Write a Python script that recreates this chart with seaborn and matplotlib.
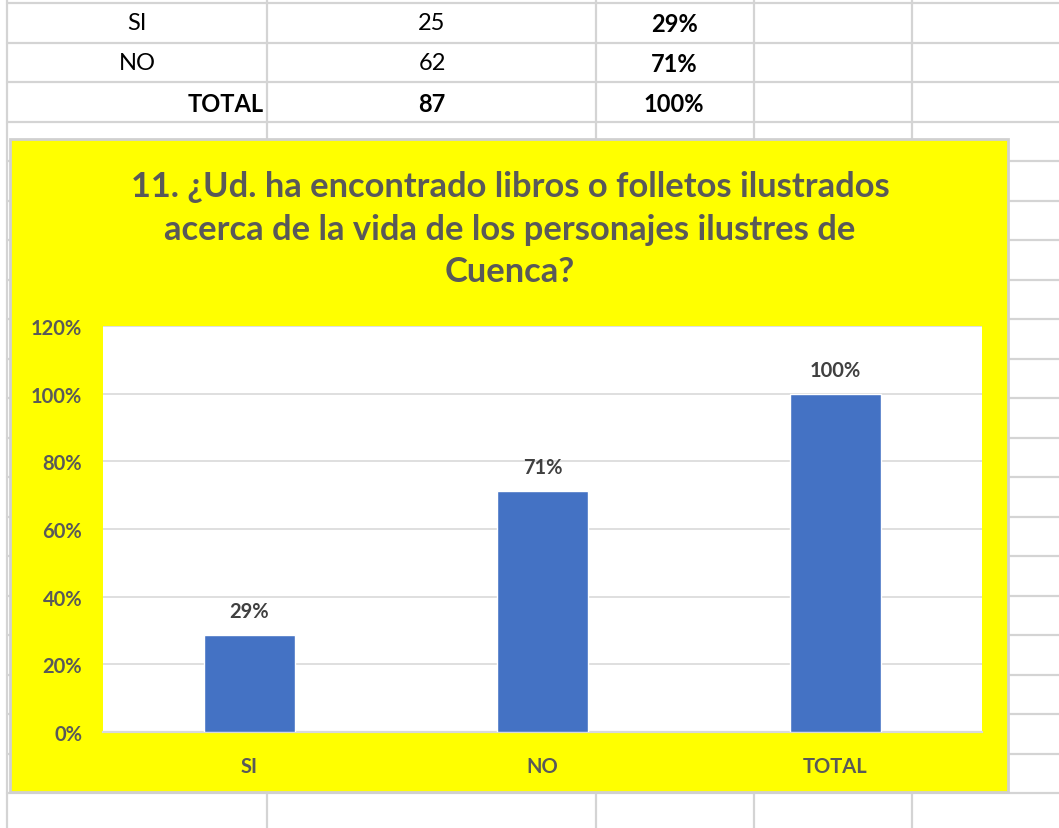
"""Spreadsheet-style bar chart: question 11 (SI / NO / TOTAL)."""

import matplotlib.pyplot as plt
import pandas as pd
import seaborn as sns
from matplotlib.lines import Line2D
from matplotlib.patches import Rectangle
from matplotlib.ticker import FuncFormatter

categories = ["SI", "NO", "TOTAL"]
counts = [25, 62, 87]
shares = [0.287, 0.713, 1.00]
share_labels = ["29%", "71%", "100%"]
title_lines = [
    "11. ¿Ud. ha encontrado libros o folletos ilustrados",
    "acerca de la vida de los personajes ilustres de",
    "Cuenca?",
]

W, H = 1059, 829
FONT = ["Lato", "DejaVu Sans"]
GRID = "#D4D4D4"
TEXT_GRAY = "#595959"


def fx(x):
    return x / W


def fy(y):
    return 1 - y / H


sns.set_theme(style="white")
plt.rcParams["font.family"] = FONT

fig = plt.figure(figsize=(W / 100, H / 100), dpi=100)
fig.patch.set_facecolor("white")

# spreadsheet cell grid behind the chart
col_lines = [7, 267, 596, 754, 912]
row_lines = [4 + 39.5 * k for k in range(21)]
for y in row_lines:
    fig.add_artist(Line2D([fx(7), 1], [fy(y), fy(y)], color=GRID, lw=1.6, zorder=0))
for x in col_lines:
    fig.add_artist(Line2D([fx(x), fx(x)], [0, 1], color=GRID, lw=1.6, zorder=0))

# table rows above the chart
table_y = [24, 64, 104]
for i, (cat, n, lab) in enumerate(zip(categories, counts, share_labels)):
    bold = cat == "TOTAL"
    if bold:
        fig.text(fx(264), fy(table_y[i]), cat, ha="right", va="center",
                 fontsize=17, fontweight="bold", color="black")
    else:
        fig.text(fx(137), fy(table_y[i]), cat, ha="center", va="center",
                 fontsize=17, color="black")
    fig.text(fx(432), fy(table_y[i]), str(n), ha="center", va="center",
             fontsize=17, fontweight="bold" if bold else "normal", color="black")
    fig.text(fx(674), fy(table_y[i]), lab, ha="center", va="center",
             fontsize=17, fontweight="bold", color="black")

# yellow chart area
fig.add_artist(Rectangle((fx(10), fy(793)), fx(1008 - 10), (793 - 140) / H,
                         facecolor="#FFFF00", edgecolor="#D0D0D0", lw=2, zorder=1))

for i, line in enumerate(title_lines):
    fig.text(fx(510), fy(187 + 42.5 * i), line, ha="center", va="center",
             fontsize=24.8, fontweight="bold", color=TEXT_GRAY, zorder=3)

ax = fig.add_axes([fx(103), fy(733), (982 - 103) / W, (733 - 327) / H], zorder=2)
df = pd.DataFrame({"category": categories, "share": shares})
sns.barplot(data=df, x="category", y="share", color="#4472C4", saturation=1,
            width=0.31, ax=ax, zorder=3)

ax.set_facecolor("white")
ax.set_ylim(0, 1.2)
ax.set_yticks([0, 0.2, 0.4, 0.6, 0.8, 1.0, 1.2])
ax.yaxis.set_major_formatter(FuncFormatter(lambda v, _: f"{v:.0%}"))
ax.grid(axis="y", color="#D9D9D9", lw=1.2, zorder=0)
ax.set_axisbelow(True)
for side in ["top", "right", "left"]:
    ax.spines[side].set_visible(False)
ax.spines["bottom"].set_color("#D9D9D9")
ax.spines["bottom"].set_linewidth(1.6)
ax.set_xlabel("")
ax.set_ylabel("")
ax.tick_params(axis="y", length=0, pad=15, labelsize=14.5, labelcolor=TEXT_GRAY)
ax.tick_params(axis="x", length=0, pad=17, labelsize=14.5, labelcolor=TEXT_GRAY)
for lab in ax.get_xticklabels() + ax.get_yticklabels():
    lab.set_fontweight("bold")

for i, (v, lab) in enumerate(zip(shares, share_labels)):
    ax.annotate(lab, (i, v), xytext=(0, 10), textcoords="offset points",
                ha="center", va="bottom", fontsize=14.5, fontweight="bold",
                color="#404040")

fig.savefig("out.png", dpi=100)
